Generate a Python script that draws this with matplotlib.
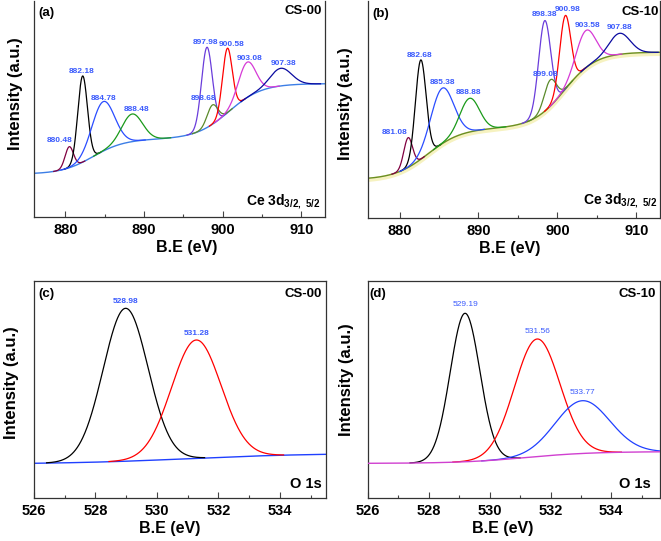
import numpy as np
import matplotlib
matplotlib.use("Agg")
import matplotlib.pyplot as plt
import matplotlib.transforms as mtransforms

plt.rcParams['font.family'] = ['Liberation Sans', 'DejaVu Sans']
plt.rcParams['mathtext.fontset'] = 'custom'
plt.rcParams['mathtext.rm'] = 'Liberation Sans'
plt.rcParams['mathtext.bf'] = 'Liberation Sans:bold'

# ---------------- data ----------------
# Ce 3d, CS-00  (panel a): peak centre (eV), peak-top intensity, FWHM (eV)
ce00_centers = [880.48, 882.18, 884.78, 888.48, 897.98, 898.68, 900.58, 903.08, 907.38]
ce00_tops = [70.3, 141.0, 115.3, 103.0, 169.7, 112.0, 168.7, 154.7, 148.7]
ce00_fwhm = [1.25, 1.45, 3.4, 3.1, 1.6, 1.6, 1.45, 2.6, 3.2]
ce00_labels = ['880.48', '882.18', '884.78', '888.48', '897.98', '898.68', '900.58', '903.08', '907.38']
# background: base level, step centres / widths / heights
ce00_bg_base = 42.9
ce00_bg_steps_c = [883.5, 900.8]
ce00_bg_steps_w = [4.0, 4.2]
ce00_bg_steps_h = [35.0, 55.5]

# Ce 3d, CS-10  (panel b)
ce10_centers = [881.08, 882.68, 885.38, 888.88, 898.38, 899.08, 900.98, 903.58, 907.88]
ce10_tops = [80.3, 158.0, 129.7, 119.7, 197.3, 138.0, 202.3, 187.3, 184.7]
ce10_fwhm = [1.3, 1.6, 3.4, 2.9, 1.8, 1.8, 1.65, 2.9, 3.1]
ce10_labels = ['881.08', '882.68', '885.38', '888.88', '898.38', '899.08', '900.98', '903.58', '907.88']
ce10_bg_base = 38.3
ce10_bg_steps_c = [883.6, 900.9]
ce10_bg_steps_w = [4.3, 4.0]
ce10_bg_steps_h = [51.6, 76.0]

# O 1s, CS-00  (panel c)
o00_centers = [528.98, 531.28]
o00_tops = [189.7, 158.0]
o00_fwhm = [1.72, 1.9]
o00_labels = ['528.98', '531.28']
o00_bg_base = 33.9
o00_bg_steps_c = [531.0]
o00_bg_steps_w = [4.0]
o00_bg_steps_h = [10.8]

# O 1s, CS-10  (panel d)
o10_centers = [529.19, 531.56, 533.05]
o10_tops = [184.7, 159.0, 97.3]
o10_fwhm = [1.15, 1.76, 2.1]
o10_labels = ['529.19', '531.56', '533.77']
o10_bg_base = 34.6
o10_bg_steps_c = [531.2]
o10_bg_steps_w = [2.2]
o10_bg_steps_h = [11.8]

ce_colors = ['#800040', '#000000', '#2a4dff', '#1a9a1a', '#6a3ddb',
             '#5a8a2a', '#ff0000', '#d63ad6', '#0a0aa0']
o00_colors = ['#000000', '#ff0000']
o10_colors = ['#000000', '#ff0000', '#2040ff']
label_color = '#3b5bfd'

# label placement (offset points from the peak top)
ce00_lab_dx = [-7.2, -0.7, 0.7, 3.0, -1.0, -6.7, 3.0, 1.8, 1.8]
ce00_lab_dy = [4.3, 3.1, 2.6, 3.4, 3.4, 4.8, 2.4, 2.9, 3.6]
ce10_lab_dx = [-10.0, -0.5, 0.0, -0.5, 0.0, -3.3, 1.8, 1.2, 0.0]
ce10_lab_dy = [4.1, 2.9, 4.3, 4.0, 4.8, 4.3, 4.6, 4.1, 4.0]
o00_lab_dx = [0, 0]
o00_lab_dy = [4.8, 4.8]
o10_lab_dx = [0, 0, 0]
o10_lab_dy = [6.0, 5.3, 5.8]


def gauss(x, c, h, w):
    s = w / 2.3548
    return h * np.exp(-0.5 * ((x - c) / s) ** 2)


def background(x, base, cs, ws, hs):
    bg = np.full_like(x, base, dtype=float)
    for c, w, h in zip(cs, ws, hs):
        bg += h * 0.5 * (1 + np.tanh((x - c) / w))
    return bg


W, H = 661, 541
fig = plt.figure(figsize=(W / 100, H / 100), dpi=100)


def make_ax(l, r, t, b):
    return fig.add_axes([l / W, (H - b) / H, (r - l) / W, (b - t) / H])


def style_ax(ax, xlim, ylim, major, minor, ylab_xy, xlab_x, top=True):
    ax.set_xlim(*xlim)
    ax.set_ylim(*ylim)
    ax.set_yticks([])
    ax.set_xticks(np.arange(np.ceil(xlim[0] / major) * major, xlim[1] + 1e-6, major))
    ax.set_xticks(np.arange(np.ceil(xlim[0] / minor) * minor, xlim[1] + 1e-6, minor), minor=True)
    ax.tick_params(axis='x', which='major', direction='in', length=4, width=0.8,
                   labelsize=10.5, pad=4, color='#444444')
    ax.tick_params(axis='x', which='minor', direction='in', length=2.5, width=0.8,
                   color='#444444')
    for lab in ax.get_xticklabels():
        lab.set_fontweight('bold')
    for s in ax.spines.values():
        s.set_linewidth(0.9)
        s.set_color('#333333')
    if not top:
        ax.spines['top'].set_visible(False)
    ax.set_xlabel('B.E (eV)', fontsize=11.5, fontweight='bold')
    ax.set_ylabel('Intensity (a.u.)', fontsize=12, fontweight='bold')
    ax.yaxis.set_label_coords(*ylab_xy)
    ax.xaxis.set_label_coords(xlab_x, -0.108)


def draw_panel(ax, xlim, centers, tops, fwhm, bgp, colors, labels, bg_color,
               lab_dx, lab_dy, label_weight='bold', thresh=1e-3, glow=False,
               bg_on_top=False):
    x = np.arange(xlim[0], xlim[1] + 0.005, 0.01)
    bg = background(x, *bgp)
    if glow:
        off = mtransforms.offset_copy(ax.transData, fig=fig, x=0, y=-1.5, units='dots')
        ax.plot(x, bg, color='#f6f2c0', lw=3.2, transform=off, zorder=1,
                solid_capstyle='butt')
    if not bg_on_top:
        ax.plot(x, bg, color=bg_color, lw=1.0, zorder=2)
    for i, (c, t, w) in enumerate(zip(centers, tops, fwhm)):
        b0 = background(np.array([c]), *bgp)[0]
        h = t - b0
        g = gauss(x, c, h, w)
        m = g > thresh * h
        ax.plot(x[m], (bg + g)[m], color=colors[i], lw=0.9, zorder=3)
        ax.annotate(labels[i], (c, t), xytext=(lab_dx[i], lab_dy[i]),
                    textcoords='offset points', ha='center', va='center',
                    fontsize=6.0, fontweight=label_weight, color=label_color, zorder=5)
    if bg_on_top:
        ax.plot(x, bg, color=bg_color, lw=1.0, zorder=4)


# panel (a)
axa = make_ax(34, 325, 1, 217)
style_ax(axa, (876, 913), (0, 216), 10, 5, (-0.039, 0.57), 0.526, top=False)
draw_panel(axa, (876, 913), ce00_centers, ce00_tops, ce00_fwhm,
           (ce00_bg_base, ce00_bg_steps_c, ce00_bg_steps_w, ce00_bg_steps_h),
           ce_colors, ce00_labels, '#3c7ee6', ce00_lab_dx, ce00_lab_dy)
axa.text(0.015, 0.97, '(a)', transform=axa.transAxes, fontsize=9.5, fontweight='bold',
         ha='left', va='top')
axa.text(0.99, 0.98, 'CS-00', transform=axa.transAxes, fontsize=9.5, fontweight='bold',
         ha='right', va='top')
axa.text(0.985, 0.03, r'Ce 3d$_{\mathbf{3/2,\ 5/2}}$', transform=axa.transAxes,
         fontsize=10, fontweight='bold', ha='right', va='bottom')

# panel (b)
axb = make_ax(368, 660, 1, 218)
style_ax(axb, (876, 913), (0, 217), 10, 5, (-0.053, 0.525), 0.486, top=False)
draw_panel(axb, (876, 913), ce10_centers, ce10_tops, ce10_fwhm,
           (ce10_bg_base, ce10_bg_steps_c, ce10_bg_steps_w, ce10_bg_steps_h),
           ce_colors, ce10_labels, '#6b8e23', ce10_lab_dx, ce10_lab_dy, glow=True)
axb.text(0.015, 0.97, '(b)', transform=axb.transAxes, fontsize=9.5, fontweight='bold',
         ha='left', va='top')
axb.text(0.995, 0.975, 'CS-10', transform=axb.transAxes, fontsize=9.5, fontweight='bold',
         ha='right', va='top')
axb.text(0.99, 0.035, r'Ce 3d$_{\mathbf{3/2,\ 5/2}}$', transform=axb.transAxes,
         fontsize=10, fontweight='bold', ha='right', va='bottom')

# panel (c)
axc = make_ax(34, 326, 281, 498)
style_ax(axc, (526, 535.5), (0, 217), 2, 1, (-0.05, 0.53), 0.466)
draw_panel(axc, (526, 535.5), o00_centers, o00_tops, o00_fwhm,
           (o00_bg_base, o00_bg_steps_c, o00_bg_steps_w, o00_bg_steps_h),
           o00_colors, o00_labels, '#2040ff', o00_lab_dx, o00_lab_dy, thresh=2e-3)
axc.text(0.015, 0.97, '(c)', transform=axc.transAxes, fontsize=9.5, fontweight='bold',
         ha='left', va='top')
axc.text(0.985, 0.97, 'CS-00', transform=axc.transAxes, fontsize=9.5, fontweight='bold',
         ha='right', va='top')
axc.text(0.985, 0.03, 'O 1s', transform=axc.transAxes, fontsize=10.5, fontweight='bold',
         ha='right', va='bottom')

# panel (d)
axd = make_ax(368, 660, 281, 498)
style_ax(axd, (526, 535.6), (0, 217), 2, 1, (-0.048, 0.544), 0.462)
draw_panel(axd, (526, 535.6), o10_centers, o10_tops, o10_fwhm,
           (o10_bg_base, o10_bg_steps_c, o10_bg_steps_w, o10_bg_steps_h),
           o10_colors, o10_labels, '#d040d0', o10_lab_dx, o10_lab_dy,
           label_weight='normal', thresh=1e-3, bg_on_top=True)
axd.text(0.005, 0.97, '(d)', transform=axd.transAxes, fontsize=9.5, fontweight='bold',
         ha='left', va='top')
axd.text(0.985, 0.97, 'CS-10', transform=axd.transAxes, fontsize=9.5, fontweight='bold',
         ha='right', va='top')
axd.text(0.97, 0.03, 'O 1s', transform=axd.transAxes, fontsize=10.5, fontweight='bold',
         ha='right', va='bottom')

fig.savefig('out.png', dpi=100)
